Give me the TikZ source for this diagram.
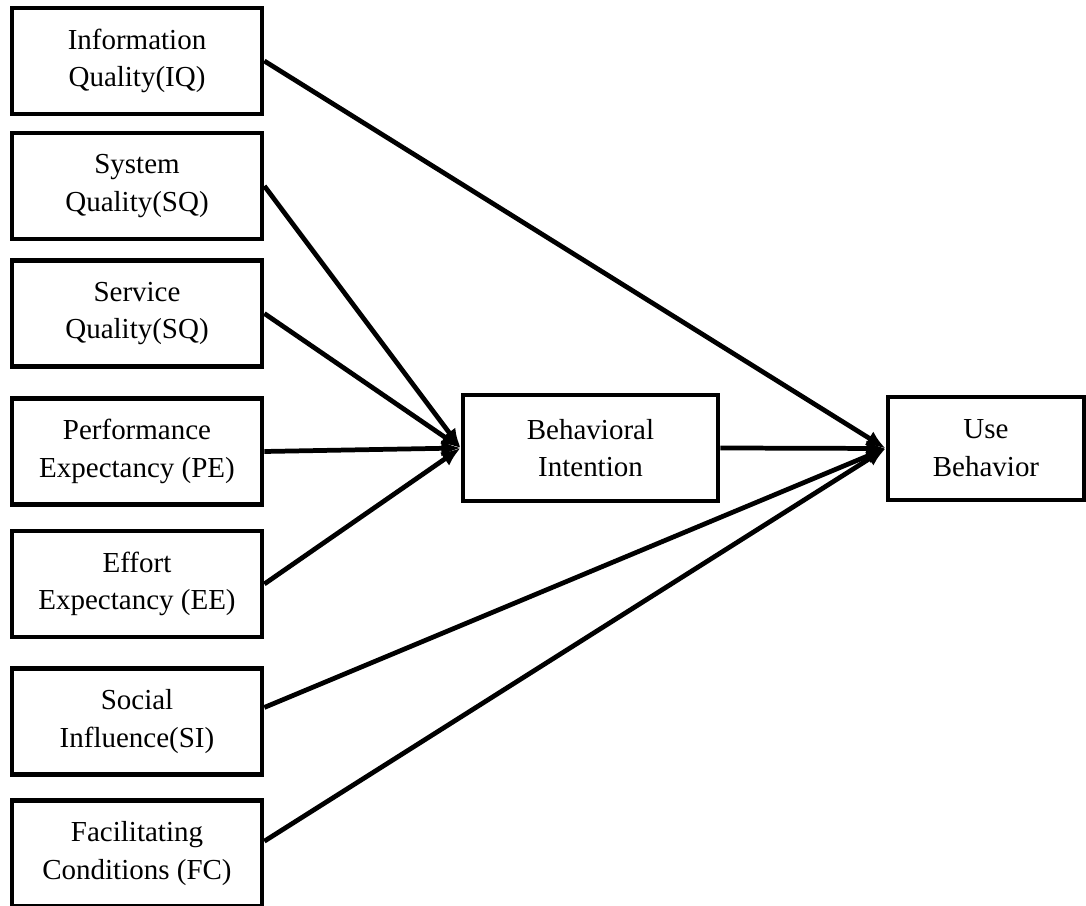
\documentclass[tikz,border=0pt]{standalone}
\usepackage{fontspec}
\setmainfont{Liberation Serif}
\usetikzlibrary{arrows.meta}

\begin{document}
\begin{tikzpicture}[x=0.02cm,y=0.02cm]
    \useasboundingbox (0,0) rectangle (1086,906);

    \begin{scope}[every node/.style={rectangle,draw,line width=2.7pt,align=center,
            minimum width=5cm,minimum height=2.12cm,inner sep=0pt,
            font=\fontsize{16.5}{21.5}\selectfont}]
        \node (IQ) at (137,845) {Information\\Quality(IQ)};
        \node (SQ) at (137,720) {System\\Quality(SQ)};
        \node (SeQ) at (137,592.5) {Service\\Quality(SQ)};
        \node (PE) at (137,454.5) {Performance\\Expectancy (PE)};
        \node (EE) at (137,322) {Effort\\Expectancy (EE)};
        \node (SI) at (137,184.5) {Social\\Influence(SI)};
        \node (FC) at (137,52.5) {Facilitating\\Conditions (FC)};
        \node [minimum width=5.1cm] (BI) at (590.5,458) {Behavioral\\Intention};
        \node [minimum width=3.92cm,minimum height=2.06cm] (UB) at (986,457.5) {Use\\Behavior};
    \end{scope}
    \begin{scope}[every path/.style={-{Latex[length=11pt,width=9pt]},line width=2.7pt}]
        \path (SQ.east) edge (BI.west);
        \path (SeQ.east) edge (BI.west);
        \path (PE.east) edge (BI.west);
        \path (EE.east) edge (BI.west);
        \path (IQ.east) edge (UB.west);
        \path (BI.east) edge (UB.west);
        \path ([yshift=8pt]SI.east) edge (UB.west);
        \path ([yshift=7pt]FC.east) edge (UB.west);
    \end{scope}
\end{tikzpicture}
\end{document}
